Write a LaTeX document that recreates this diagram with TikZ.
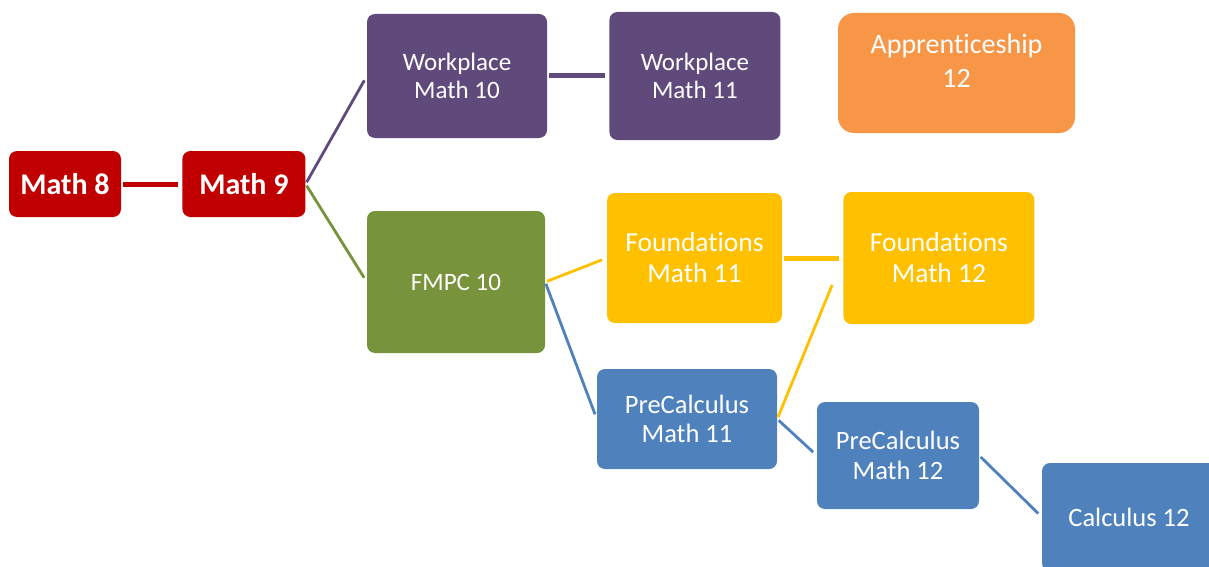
\documentclass[tikz,border=0pt]{standalone}
\usepackage{fontspec}
\setmainfont{Carlito}[Ligatures={NoCommon,NoRare,NoContextual}]
\usetikzlibrary{positioning}

\definecolor{mathred}{HTML}{C00000}
\definecolor{workpurple}{HTML}{604A7B}
\definecolor{apporange}{HTML}{F79646}
\definecolor{fmpcgreen}{HTML}{77933C}
\definecolor{foundyellow}{HTML}{FFC000}
\definecolor{preblue}{HTML}{4F81BD}

\begin{document}
\begin{tikzpicture}[
		x=1pt,y=-1pt,
		box/.style={rectangle,rounded corners=8pt,inner sep=0pt,text=white,align=center},
		link/.style={line width=2.8pt,shorten <=2pt,shorten >=5pt},
		bar/.style={line width=5pt,shorten <=2pt,shorten >=4pt}
		]
		\useasboundingbox[fill=white] (0,0) rectangle (1209,567);
		
		\node[box,fill=mathred,minimum width=112pt,minimum height=66pt,font=\fontsize{30}{34}\selectfont\bfseries] (m8) at (65,184) {Math 8};
		\node[box,fill=mathred,minimum width=123pt,minimum height=66pt,font=\fontsize{30}{34}\selectfont\bfseries,right=61pt of m8] (m9) {Math 9};
		
		\node[box,fill=workpurple,minimum width=180pt,minimum height=124pt,font=\fontsize{25}{28}\selectfont] (wp10) at (457,76) {Workplace\\Math 10};
		\node[box,fill=workpurple,minimum width=171pt,minimum height=128pt,font=\fontsize{25}{28}\selectfont,right=62pt of wp10] (wp11) {Workplace\\Math 11};
		\node[box,fill=apporange,rounded corners=16pt,minimum width=237pt,minimum height=120pt,text depth=24pt,font=\fontsize{28}{34}\selectfont] (app12) at (956.5,73) {Apprenticeship\\12};
		
		\node[box,fill=fmpcgreen,minimum width=178pt,minimum height=142pt,font=\fontsize{25}{28}\selectfont] (fmpc) at (456,282) {FMPC 10};
		\node[box,fill=foundyellow,minimum width=175pt,minimum height=130pt,font=\fontsize{27.5}{31}\selectfont] (fd11) at (694.5,258) {Foundations\\Math 11};
		\node[box,fill=foundyellow,minimum width=191pt,minimum height=132pt,font=\fontsize{27.5}{31}\selectfont,right=61pt of fd11] (fd12) {Foundations\\Math 12};
		
		\node[box,fill=preblue,minimum width=180pt,minimum height=100pt,font=\fontsize{26.5}{29.5}\selectfont] (pc11) at (687,419) {PreCalculus\\Math 11};
		\node[box,fill=preblue,minimum width=162pt,minimum height=107pt,font=\fontsize{26.5}{29.5}\selectfont] (pc12) at (898,455.5) {PreCalculus\\Math 12};
		\node[box,fill=preblue,minimum width=174pt,minimum height=108pt,font=\fontsize{26.5}{29.5}\selectfont] (calc12) at (1129,517) {Calculus 12};
		
		% connectors
		\draw[bar,mathred] (m8) -- (m9);
		\draw[link,workpurple] (m9.east) -- (wp10.west);
		\draw[link,fmpcgreen] (m9.east) -- (fmpc.west);
		\draw[bar,workpurple] (wp10) -- (wp11);
		\draw[link,foundyellow] (fmpc.east) -- (fd11.west);
		\draw[link,preblue] (fmpc.east) -- (pc11.west);
		\draw[bar,foundyellow] (fd11) -- (fd12);
		\draw[link,foundyellow,shorten >=29pt] (pc11.east) -- (fd12.west);
		\draw[link,preblue] (pc11.east) -- (pc12.west);
		\draw[link,preblue] (pc12.east) -- (calc12.west);
	\end{tikzpicture}
\end{document}
